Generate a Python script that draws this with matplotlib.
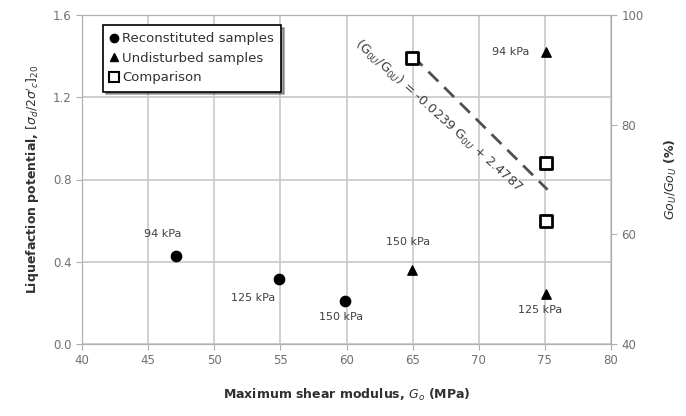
import matplotlib
matplotlib.use('Agg')
import matplotlib.pyplot as plt
from matplotlib.lines import Line2D

# reconstituted samples (left axis)
recon_g    = [47.1, 54.9, 59.9]
recon_lp   = [0.43, 0.316, 0.21]
recon_lab  = ['94 kPa', '125 kPa', '150 kPa']

# undisturbed samples (left axis)
undist_g   = [64.95, 75.1, 75.1]
undist_lp  = [0.36, 0.243, 1.42]
undist_lab = ['150 kPa', '125 kPa', '94 kPa']

# comparison (right axis, %)
comp_g     = [64.95, 75.1, 75.1]
comp_ratio = [92.1, 73.1, 62.5]

# trend line: ratio = -0.0239 G + 2.4787
trend_g     = [65.0, 75.2]
trend_slope = -0.0239
trend_icpt  = 2.4787

grey = '#707070'

fig = plt.figure(figsize=(6.86, 4.16), dpi=100)
ax = fig.add_axes([82/686, 1 - 344/416, 529/686, 329/416])
ax2 = ax.twinx()

ax.set_xlim(40, 80)
ax.set_ylim(0, 1.6)
ax.set_xticks(range(40, 81, 5))
ax.set_yticks([0.0, 0.4, 0.8, 1.2, 1.6])
ax.set_yticklabels(['0.0', '0.4', '0.8', '1.2', '1.6'])
ax.grid(True, color='#c8c8c8', linewidth=1.2)
ax.set_axisbelow(True)

ax2.set_ylim(40, 100)
ax2.set_yticks([40, 60, 80, 100])

for a in (ax, ax2):
    for s in a.spines.values():
        s.set_color('#b0b0b0')
    a.tick_params(colors='#b0b0b0', labelcolor=grey, labelsize=8.5, length=4)

ax.scatter(recon_g, recon_lp, marker='o', s=55, color='black', zorder=3)
ax.scatter(undist_g, undist_lp, marker='^', s=45, color='black', zorder=3)

rec_off = [(-13, 22), (-26, -19), (-4, -16)]
for g, v, t, o in zip(recon_g, recon_lp, recon_lab, rec_off):
    ax.annotate(t, (g, v), xytext=o, textcoords='offset pixels', ha='center', va='center',
                fontsize=8, color='#404040')
und_off = [(-4, 28), (-6, -16), (-36, 0)]
for g, v, t, o in zip(undist_g, undist_lp, undist_lab, und_off):
    ax.annotate(t, (g, v), xytext=o, textcoords='offset pixels', ha='center', va='center',
                fontsize=8, color='#404040')

trend_r = [100 * (trend_slope * g + trend_icpt) for g in trend_g]
ax2.plot(trend_g, trend_r, color='#505050', linestyle=(0, (5, 3)), linewidth=2, zorder=2)
ax2.scatter(comp_g, comp_ratio, marker='s', s=72, facecolor='white', edgecolor='black',
            linewidth=2, zorder=3)
ax2.text(66.9, 81.6, r'(G$_{0U}$/G$_{0U}$) = -0.0239 G$_{0U}$ + 2.4787', rotation=-42,
         ha='center', va='center', fontsize=9.3, color='#404040')

ax.set_xlabel(r'Maximum shear modulus, $G_o$ (MPa)', fontsize=9, fontweight='bold',
              color='#303030', labelpad=14)
ax.set_ylabel(r"Liquefaction potential, $[\sigma_d/2\sigma'_c]_{20}$", fontsize=9,
              fontweight='bold', color='#303030', labelpad=8)
ax2.set_ylabel(r'$Go_U/Go_U$ (%)', fontsize=9, fontweight='bold', color='#303030',
               labelpad=14)

handles = [
    Line2D([], [], marker='o', color='black', linestyle='none', markersize=6),
    Line2D([], [], marker='^', color='black', linestyle='none', markersize=6),
    Line2D([], [], marker='s', markerfacecolor='white', markeredgecolor='black',
           markeredgewidth=1.5, linestyle='none', markersize=7),
]
leg = ax2.legend(handles, ['Reconstituted samples', 'Undisturbed samples', 'Comparison'],
                 loc='upper left', bbox_to_anchor=(21/529, 1 - 10/329), borderaxespad=0,
                 fontsize=9.5, frameon=True, fancybox=False, shadow=True, handlelength=0.6,
                 handletextpad=0.3, borderpad=0.55, labelspacing=0.5)
leg.get_frame().set_edgecolor('black')
leg.get_frame().set_linewidth(1.2)
for t in leg.get_texts():
    t.set_color('#303030')

fig.savefig('out.png', dpi=100)
